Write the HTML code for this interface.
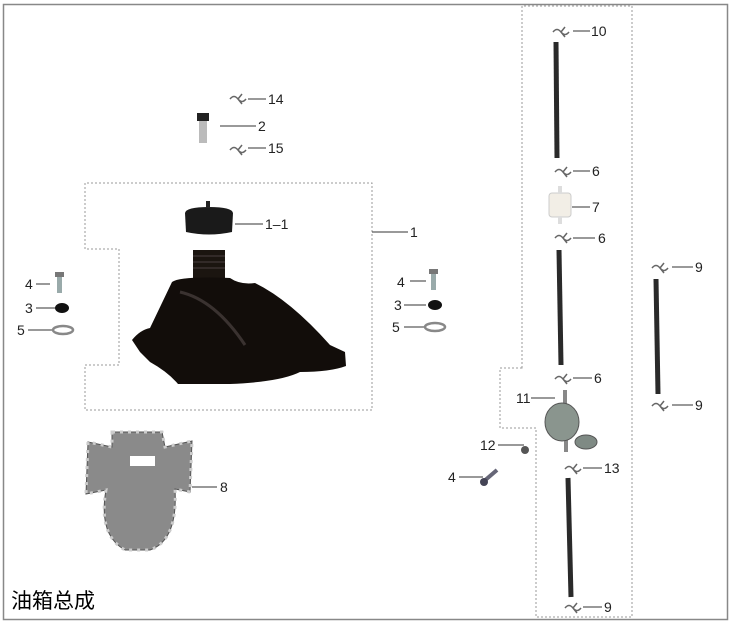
<!DOCTYPE html>
<html><head><meta charset="utf-8"><style>
html,body{margin:0;padding:0;background:#fff;}
svg{display:block;}
text{font-family:"Liberation Sans",sans-serif;font-size:14px;fill:#222;}
</style></head><body>
<svg width="732" height="625" viewBox="0 0 732 625" xmlns="http://www.w3.org/2000/svg">
<rect x="3.5" y="4.5" width="724" height="615" fill="#fff" stroke="#888" stroke-width="1.5"/>
<g fill="none" stroke="#999" stroke-width="1" stroke-dasharray="2,2">
<path d="M85 249 V183 H372 V410 H85 V365 H119 V249 Z"/>
<path d="M522 368 V6 H632 V617 H536 V428 H500 V368 Z"/>
</g>
<defs>
<g id="clip"><path d="M0 0 q4 -5 8 0 q4 5 8 0 M8 0 l4 -5 M8 0 l4 5" stroke="#666" stroke-width="1.5" fill="none"/></g>
</defs>
<g stroke="#333" stroke-width="1">
<line x1="248" y1="99" x2="266" y2="99"/><line x1="220" y1="126" x2="256" y2="126"/><line x1="248" y1="148" x2="266" y2="148"/>
<line x1="235" y1="224" x2="263" y2="224"/><line x1="372" y1="232" x2="408" y2="232"/>
<line x1="36" y1="284" x2="50" y2="284"/><line x1="36" y1="308" x2="55" y2="308"/><line x1="28" y1="330" x2="52" y2="330"/>
<line x1="410" y1="281" x2="426" y2="281"/><line x1="404" y1="305" x2="426" y2="305"/><line x1="404" y1="327" x2="424" y2="327"/>
<line x1="192" y1="487" x2="217" y2="487"/>
<line x1="573" y1="31" x2="590" y2="31"/><line x1="573" y1="171" x2="590" y2="171"/><line x1="572" y1="207" x2="590" y2="207"/><line x1="573" y1="238" x2="595" y2="238"/>
<line x1="573" y1="378" x2="592" y2="378"/><line x1="531" y1="398" x2="555" y2="398"/><line x1="498" y1="445" x2="524" y2="445"/>
<line x1="459" y1="477" x2="483" y2="477"/><line x1="583" y1="468" x2="602" y2="468"/><line x1="583" y1="607" x2="602" y2="607"/>
<line x1="672" y1="267" x2="693" y2="267"/><line x1="672" y1="405" x2="693" y2="405"/>
</g>
<use href="#clip" x="230" y="99"/><use href="#clip" x="230" y="150"/>
<use href="#clip" x="553" y="32"/><use href="#clip" x="555" y="172"/><use href="#clip" x="555" y="238"/><use href="#clip" x="555" y="379"/>
<use href="#clip" x="565" y="469"/><use href="#clip" x="565" y="608"/><use href="#clip" x="652" y="268"/><use href="#clip" x="652" y="406"/>
<g stroke="#2a2a2a" stroke-width="5"><line x1="556" y1="42" x2="557" y2="158"/><line x1="559" y1="250" x2="561" y2="365"/><line x1="568" y1="478" x2="571" y2="597"/><line x1="656" y1="279" x2="658" y2="394"/></g>
<rect x="197" y="113" width="12" height="8" fill="#222"/><rect x="199" y="121" width="8" height="22" fill="#bbb"/>
<rect x="549" y="193" width="22" height="24" rx="3" fill="#f2eee6" stroke="#ccc"/><rect x="558" y="186" width="4" height="8" fill="#ddd"/><rect x="558" y="216" width="4" height="8" fill="#ddd"/>
<path d="M185 213 Q186 207 209 207 Q232 207 233 213 L232 232 Q209 237 186 232 Z" fill="#1a1a1a"/>
<rect x="206" y="201" width="4" height="7" fill="#222"/>
<rect x="193" y="250" width="32" height="35" fill="#1b1510"/>
<g stroke="#3a3230" stroke-width="1.5"><line x1="193" y1="256" x2="225" y2="256"/><line x1="193" y1="262" x2="225" y2="262"/><line x1="193" y1="268" x2="225" y2="268"/></g>
<path d="M132 340 Q140 330 150 328 L172 282 Q180 276 230 278 Q240 285 255 283 Q290 300 330 345 L345 352 L346 366 Q330 372 300 372 Q280 382 230 384 L178 384 Q168 372 150 362 L140 352 Z" fill="#120d0a"/>
<path d="M180 292 Q215 300 245 345" stroke="#3a3230" stroke-width="3" fill="none"/>
<rect x="55" y="272" width="9" height="5" fill="#777"/><rect x="57" y="277" width="5" height="16" fill="#9aa"/>
<ellipse cx="62" cy="308" rx="7" ry="5" fill="#111"/><ellipse cx="63" cy="330" rx="10" ry="4" fill="none" stroke="#888" stroke-width="2.5"/>
<rect x="429" y="269" width="9" height="5" fill="#777"/><rect x="431" y="274" width="5" height="16" fill="#9aa"/>
<ellipse cx="435" cy="305" rx="7" ry="5" fill="#111"/><ellipse cx="435" cy="327" rx="10" ry="4" fill="none" stroke="#888" stroke-width="2.5"/>
<rect x="563" y="390" width="4" height="14" fill="#888"/><rect x="564" y="440" width="4" height="12" fill="#888"/>
<ellipse cx="562" cy="422" rx="17" ry="19" fill="#8a958e" stroke="#555"/>
<ellipse cx="586" cy="442" rx="11" ry="7" fill="#7f8a84" stroke="#555"/>
<circle cx="525" cy="450" r="4" fill="#555"/>
<path d="M483 482 L497 470" stroke="#667" stroke-width="4"/><circle cx="484" cy="482" r="4" fill="#445"/>
<path d="M112 432 L162 432 L165 447 L192 441 L190 492 L175 489 Q178 540 150 550 L125 550 Q98 535 106 490 L86 494 L88 442 L112 447 Z" fill="#8a8a8a" stroke="#555"/>
<path d="M112 432 L162 432 L165 447 L192 441 L190 492 L175 489 Q178 540 150 550 L125 550 Q98 535 106 490 L86 494 L88 442 L112 447 Z" fill="none" stroke="#ccc" stroke-width="3" stroke-dasharray="3,5"/>
<rect x="130" y="456" width="25" height="10" fill="#fff"/>
<text x="268" y="104" font-size="12">14</text><text x="258" y="131">2</text><text x="268" y="153" font-size="12">15</text>
<text x="265" y="229">1–1</text><text x="410" y="237">1</text>
<text x="25" y="289">4</text><text x="25" y="313">3</text><text x="17" y="335">5</text>
<text x="397" y="287" font-size="16">4</text><text x="394" y="310">3</text><text x="392" y="332">5</text>
<text x="220" y="492">8</text>
<text x="591" y="36">10</text><text x="592" y="176">6</text><text x="592" y="212">7</text><text x="598" y="243">6</text>
<text x="594" y="383">6</text><text x="516" y="403">11</text><text x="480" y="450">12</text>
<text x="448" y="482">4</text><text x="604" y="473" font-size="12">13</text><text x="604" y="612">9</text>
<text x="695" y="272">9</text><text x="695" y="410">9</text>
<text x="11" y="608" style="font-family:'Liberation Sans','Noto Sans CJK SC',sans-serif;font-size:21px;fill:#000">油箱总成</text>
</svg>
</body></html>
